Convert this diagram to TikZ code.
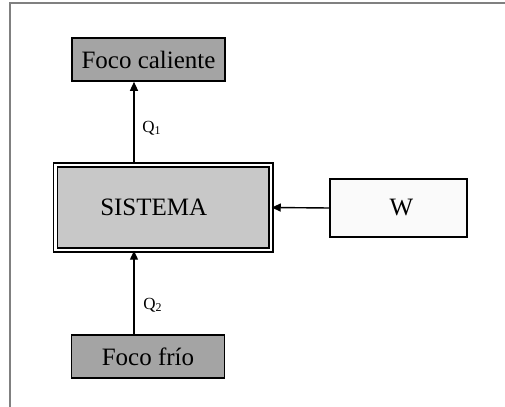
\documentclass[tikz,border=0pt]{standalone}
\usepackage{fontspec}
\setmainfont{Liberation Serif}
\usepackage{tikz}
\usepackage{xcolor}
\usetikzlibrary{positioning, calc, arrows.meta}

\definecolor{focogray}{HTML}{A4A4A4}
\definecolor{sisgray}{HTML}{C8C8C8}
\definecolor{wfill}{HTML}{FAFAFA}

\begin{document}
\begin{tikzpicture}[x=0.5pt,y=-0.5pt,
    foco/.style={draw,line width=0.8pt,fill=focogray,minimum width=76.5pt,minimum height=21.5pt,inner sep=0pt,font=\fontsize{12.5}{14}\selectfont},
    flow/.style={line width=0.7pt,-{Triangle[length=4.5pt,width=4pt]}},
    qlab/.style={font=\fontsize{8.5}{9}\selectfont}]
    \useasboundingbox (0,0) rectangle (505,407);
    \draw[gray,line width=1pt] (505,3) -| (10,407);
    \node[foco] (cal) at (148.5,59.5) {Foco caliente};
    \node[foco] (fri) at (148,356.5) {Foco fr\'io};
    \node[draw,line width=0.75pt,double,double distance=1.1pt,fill=sisgray,minimum width=107.75pt,minimum height=42.5pt,inner sep=0pt,font=\fontsize{12.5}{14}\selectfont] (sis) at (163.25,207.5) {\hspace*{-9.5pt}SISTEMA};
    \node[draw,line width=0.7pt,fill=wfill,minimum width=68.5pt,minimum height=29pt,inner sep=0pt,font=\fontsize{12.5}{14}\selectfont] (w) at (398.5,208) {\hspace*{3pt}W};
    \coordinate (qx) at (134,0);
    \draw[flow] (sis.north -| qx) -- (cal.south -| qx);
    \draw[flow] (fri.north -| qx) -- (sis.south -| qx);
    \draw[flow] (w.west) -- (sis.east);
    \node[qlab] (q1) at (152,128) {Q\textsubscript{1}};
    \node[qlab] (q2) at (153,305) {Q\textsubscript{2}};
\end{tikzpicture}
\end{document}
